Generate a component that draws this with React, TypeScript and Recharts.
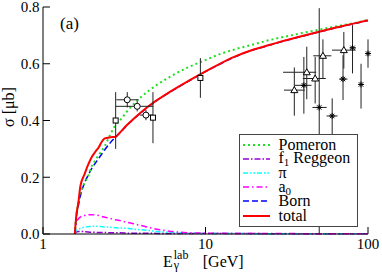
import React from "react";
import { ComposedChart, ErrorBar, Line, Scatter, XAxis, YAxis } from "recharts";

const FONT = '"Liberation Serif", "DejaVu Serif", Tinos, "Nimbus Roman", serif';

// photon lab energy (GeV) grid shared by all model curves
const E_GRID = [1.57, 1.6, 1.65, 1.7, 1.8, 1.9, 2.0, 2.1, 2.2, 2.3, 2.4, 2.6, 2.8, 3.0, 3.3, 3.6, 4.0, 4.5, 5.0, 6.0, 7.0, 8.0, 10, 12, 15, 20, 25, 30, 40, 50, 60, 70, 85, 100];

// cross sections in microbarn
const POMERON = [0, 0.06, 0.11, 0.145, 0.18, 0.205, 0.24, 0.26, 0.278, 0.293, 0.31, 0.352, 0.385, 0.403, 0.433, 0.457, 0.482, 0.506, 0.525, 0.553, 0.574, 0.59, 0.613, 0.632, 0.65, 0.669, 0.684, 0.694, 0.709, 0.72, 0.729, 0.736, 0.745, 0.755];
const F1_REGGEON = [0, 0.007, 0.009, 0.009, 0.008, 0.007, 0.006, 0.006, 0.005, 0.005, 0.005, 0.004, 0.004, 0.004, 0.003, 0.003, 0.003, 0.003, 0.002, 0.002, 0.002, 0.002, 0.002, 0.0018, 0.0015, 0.0015, 0.0012, 0.0012, 0.001, 0.001, 0.001, 0.001, 0.001, 0.001];
const PI_EXCH = [0, 0.012, 0.017, 0.02, 0.024, 0.026, 0.027, 0.027, 0.027, 0.026, 0.025, 0.024, 0.022, 0.021, 0.02, 0.017, 0.015, 0.012, 0.009, 0.006, 0.004, 0.003, 0.002, 0.0018, 0.0015, 0.0012, 0.001, 0.001, 0.001, 0.001, 0.001, 0.001, 0.001, 0.001];
const A0_EXCH = [0, 0.04, 0.053, 0.06, 0.065, 0.068, 0.068, 0.067, 0.065, 0.062, 0.059, 0.055, 0.05, 0.047, 0.041, 0.036, 0.03, 0.023, 0.017, 0.01, 0.006, 0.004, 0.003, 0.0025, 0.002, 0.002, 0.0015, 0.0015, 0.0012, 0.001, 0.001, 0.001, 0.001, 0.001];
const BORN = [0, 0.055, 0.1, 0.135, 0.18, 0.208, 0.232, 0.25, 0.266, 0.282, 0.297, 0.322, 0.342, 0.359, 0.384, 0.404, 0.427, 0.451, 0.47, 0.499, 0.522, 0.541, 0.572, 0.596, 0.623, 0.65, 0.666, 0.679, 0.698, 0.712, 0.723, 0.732, 0.743, 0.752];
const TOTAL = [0, 0.06, 0.11, 0.17, 0.21, 0.245, 0.272, 0.29, 0.305, 0.325, 0.337, 0.341, 0.343, 0.36, 0.385, 0.405, 0.428, 0.452, 0.471, 0.5, 0.523, 0.542, 0.573, 0.597, 0.624, 0.651, 0.667, 0.68, 0.699, 0.713, 0.724, 0.733, 0.744, 0.753];

// data points: ex / ey are [minus, plus] errors
const SQUARES = [
  { E: 2.8, y: 0.4, ey: [0.1, 0.1] },
  { E: 4.75, y: 0.41, ey: [0.09, 0.09] },
  { E: 9.3, y: 0.55, ey: [0.07, 0.07] },
];
const CIRCLES = [
  { E: 3.3, y: 0.473, ex: [0.47, 0.58], ey: [0.027, 0.027] },
  { E: 3.8, y: 0.45, ex: [1.0, 0.97], ey: [0.018, 0.018] },
  { E: 4.3, y: 0.419, ex: [0.35, 0.45], ey: [0.018, 0.018] },
];
const TRIANGLES = [
  { E: 35.2, y: 0.507, ex: [4.8, 5.7], ey: [0.09, 0.08] },
  { E: 42, y: 0.57, ex: [12, 6], ey: [0.095, 0.09] },
  { E: 47.3, y: 0.548, ex: [7.6, 7.7], ey: [0.088, 0.076] },
  { E: 52.8, y: 0.628, ex: [6.8, 6.7], ey: [0.08, 0.058] },
  { E: 71, y: 0.648, ex: [11, 13], ey: [0.065, 0.064] },
];
const STARS = [
  { E: 40.3, y: 0.524, ex: [4.9, 4.6], ey: [0.1, 0.1] },
  { E: 50.1, y: 0.446, ex: [4.6, 5.6], ey: [0.446, 0.35] },
  { E: 60.2, y: 0.416, ex: [4.6, 4.8], ey: [0.07, 0.062] },
  { E: 70.2, y: 0.546, ex: [3.8, 4.6], ey: [0.074, 0.084] },
  { E: 80.3, y: 0.656, ex: [2.6, 3.7], ey: [0.09, 0.08] },
  { E: 90.6, y: 0.527, ex: [2.5, 2.7], ey: [0.085, 0.073] },
  { E: 100, y: 0.636, ex: [0, 0], ey: [0.05, 0.05] },
];

const MAJOR_X = [1, 10, 100];
const MINOR_X = [2, 3, 4, 5, 6, 7, 8, 9, 20, 30, 40, 50, 60, 70, 80, 90];
const MAJOR_Y = [0, 0.2, 0.4, 0.6, 0.8];
const MINOR_Y = [0.05, 0.1, 0.15, 0.25, 0.3, 0.35, 0.45, 0.5, 0.55, 0.65, 0.7, 0.75];

const curve = (values: number[]) => E_GRID.map((E, i) => ({ E, y: values[i] }));

// drawn in this order; total ends up on top
const CURVES = [
  { key: "f1", values: F1_REGGEON, color: "#9400d3", width: 1.5, dash: "6 2 1.5 2" },
  { key: "pi", values: PI_EXCH, color: "#00ffff", width: 1.5, dash: "5 2 1.5 2 1.5 2" },
  { key: "a0", values: A0_EXCH, color: "#ff00ff", width: 1.5, dash: "6 3 1.5 3" },
  { key: "born", values: BORN, color: "#0000ff", width: 1.5, dash: "6 3" },
  { key: "pomeron", values: POMERON, color: "#22dd22", width: 2, dash: "2 3" },
  { key: "total", values: TOTAL, color: "#ff0000", width: 2, dash: undefined },
];

const subStyle: React.CSSProperties = { fontSize: 11, verticalAlign: "baseline", position: "relative", top: 3 };

const LEGEND = [
  { key: "pomeron", label: <>Pomeron</> },
  { key: "f1", label: <>f<sub style={subStyle}>1</sub> Reggeon</> },
  { key: "pi", label: <>π</> },
  { key: "a0", label: <>a<sub style={subStyle}>0</sub></> },
  { key: "born", label: <>Born</> },
  { key: "total", label: <>total</> },
];

const squareShape = (p: any) => (
  <rect x={p.cx - 2.5} y={p.cy - 2.5} width={5} height={5} fill="#fff" stroke="#000" strokeWidth={1} />
);
const circleShape = (p: any) => <circle cx={p.cx} cy={p.cy} r={3} fill="#fff" stroke="#000" strokeWidth={1} />;
const triangleShape = (p: any) => (
  <polygon
    points={`${p.cx},${p.cy - 3.5} ${p.cx + 3.5},${p.cy + 2.5} ${p.cx - 3.5},${p.cy + 2.5}`}
    fill="#fff"
    stroke="#000"
    strokeWidth={1}
  />
);
const starShape = (p: any) => (
  <g stroke="#000" strokeWidth={1}>
    <line x1={p.cx - 3} y1={p.cy} x2={p.cx + 3} y2={p.cy} />
    <line x1={p.cx} y1={p.cy - 3} x2={p.cx} y2={p.cy + 3} />
    <line x1={p.cx - 2.2} y1={p.cy - 2.2} x2={p.cx + 2.2} y2={p.cy + 2.2} />
    <line x1={p.cx - 2.2} y1={p.cy + 2.2} x2={p.cx + 2.2} y2={p.cy - 2.2} />
  </g>
);

const tickFont = { fill: "#000", fontSize: 15, fontFamily: FONT };
const barStroke = "#222";

const POINT_SETS = [
  { name: "sq", data: SQUARES, shape: squareShape, xErr: false },
  { name: "ci", data: CIRCLES, shape: circleShape, xErr: true },
  { name: "tr", data: TRIANGLES, shape: triangleShape, xErr: true },
  { name: "st", data: STARS, shape: starShape, xErr: true },
];

export default function App() {
  return (
    <div style={{ position: "relative", width: 382, height: 274, fontFamily: FONT, background: "#fff" }}>
      <style>{"body{margin:0}"}</style>
      <ComposedChart width={382} height={274} margin={{ top: 7, right: 14, bottom: 0, left: 0 }}>
        {/* minor / frame-only axes first, so they sit on the frame */}
        <XAxis xAxisId="bm" dataKey="E" type="number" scale="log" domain={[1, 100]} allowDataOverflow ticks={MINOR_X} interval={0} tick={false} tickSize={-4} axisLine={false} tickLine={{ stroke: "#000" }} height={0} />
        <XAxis xAxisId="tm" orientation="top" dataKey="E" type="number" scale="log" domain={[1, 100]} allowDataOverflow ticks={MINOR_X} interval={0} tick={false} tickSize={-4} axisLine={false} tickLine={{ stroke: "#000" }} height={0} />
        <XAxis xAxisId="t" orientation="top" dataKey="E" type="number" scale="log" domain={[1, 100]} allowDataOverflow ticks={MAJOR_X} interval={0} tick={false} tickSize={-7} axisLine={{ stroke: "#000" }} tickLine={{ stroke: "#000" }} height={0} />
        <YAxis yAxisId="lm" dataKey="y" type="number" domain={[0, 0.8]} allowDataOverflow ticks={MINOR_Y} interval={0} tick={false} tickSize={-4} axisLine={false} tickLine={{ stroke: "#000" }} width={0} />
        <YAxis yAxisId="rm" orientation="right" dataKey="y" type="number" domain={[0, 0.8]} allowDataOverflow ticks={MINOR_Y} interval={0} tick={false} tickSize={-4} axisLine={false} tickLine={{ stroke: "#000" }} width={0} />
        <YAxis yAxisId="r" orientation="right" dataKey="y" type="number" domain={[0, 0.8]} allowDataOverflow ticks={MAJOR_Y} interval={0} tick={false} tickSize={-7} axisLine={{ stroke: "#000" }} tickLine={{ stroke: "#000" }} width={0} />

        <XAxis xAxisId="b" dataKey="E" type="number" scale="log" domain={[1, 100]} ticks={MAJOR_X} interval={0} tick={tickFont} tickSize={-7} tickMargin={11} axisLine={{ stroke: "#000" }} tickLine={{ stroke: "#000" }} height={40} />
        <YAxis yAxisId="l" dataKey="y" type="number" domain={[0, 0.8]} ticks={MAJOR_Y} interval={0} tick={tickFont} tickFormatter={(v: number) => v.toFixed(1)} tickSize={-7} tickMargin={10.5} axisLine={{ stroke: "#000" }} tickLine={{ stroke: "#000" }} width={43} />

        {CURVES.map((c) => (
          <Line
            key={c.key}
            xAxisId="b"
            yAxisId="l"
            data={curve(c.values)}
            dataKey="y"
            type="monotone"
            stroke={c.color}
            strokeWidth={c.width}
            strokeDasharray={c.dash}
            dot={false}
            activeDot={false}
            isAnimationActive={false}
          />
        ))}

        {POINT_SETS.map((s) => (
          <Scatter key={s.name} xAxisId="b" yAxisId="l" data={s.data} shape={s.shape} isAnimationActive={false}>
            {s.xErr && <ErrorBar dataKey="ex" direction="x" width={0} stroke={barStroke} strokeWidth={1} isAnimationActive={false} />}
            <ErrorBar dataKey="ey" direction="y" width={0} stroke={barStroke} strokeWidth={1} isAnimationActive={false} />
          </Scatter>
        ))}
      </ComposedChart>

      <div style={{ position: "absolute", left: 60, top: 15, fontSize: 17, lineHeight: "17px" }}>(a)</div>

      {/* y title */}
      <div
        style={{
          position: "absolute",
          left: -21,
          top: 99,
          width: 60,
          height: 16,
          fontSize: 16,
          lineHeight: "16px",
          textAlign: "center",
          transform: "rotate(-90deg)",
          whiteSpace: "nowrap",
        }}
      >
        σ [μb]
      </div>

      {/* x title */}
      <div style={{ position: "absolute", left: 163, top: 250.5, fontSize: 16, lineHeight: "16px", whiteSpace: "nowrap" }}>
        E
        <span style={{ position: "relative", display: "inline-block", width: 26, height: 16 }}>
          <span style={{ position: "absolute", left: 1, top: -4, fontSize: 12 }}>lab</span>
          <span style={{ position: "absolute", left: 1, top: 6, fontSize: 12 }}>γ</span>
        </span>{" "}
        [GeV]
      </div>

      {/* legend */}
      <div
        style={{
          position: "absolute",
          left: 238.5,
          top: 133.5,
          width: 117,
          height: 88,
          border: "1px solid #444",
          background: "#fff",
          paddingTop: 3,
          boxSizing: "content-box",
          fontSize: 16,
        }}
      >
        {LEGEND.map((item) => {
          const c = CURVES.find((k) => k.key === item.key)!;
          return (
            <div key={item.key} style={{ display: "flex", alignItems: "center", height: 14.2, lineHeight: "14px", whiteSpace: "nowrap" }}>
              <svg width={27} height={6} style={{ marginLeft: 3, flex: "none" }}>
                <line x1={0} y1={3} x2={27} y2={3} stroke={c.color} strokeWidth={c.width} strokeDasharray={c.dash} />
              </svg>
              <span style={{ marginLeft: 9 }}>{item.label}</span>
            </div>
          );
        })}
      </div>
    </div>
  );
}
